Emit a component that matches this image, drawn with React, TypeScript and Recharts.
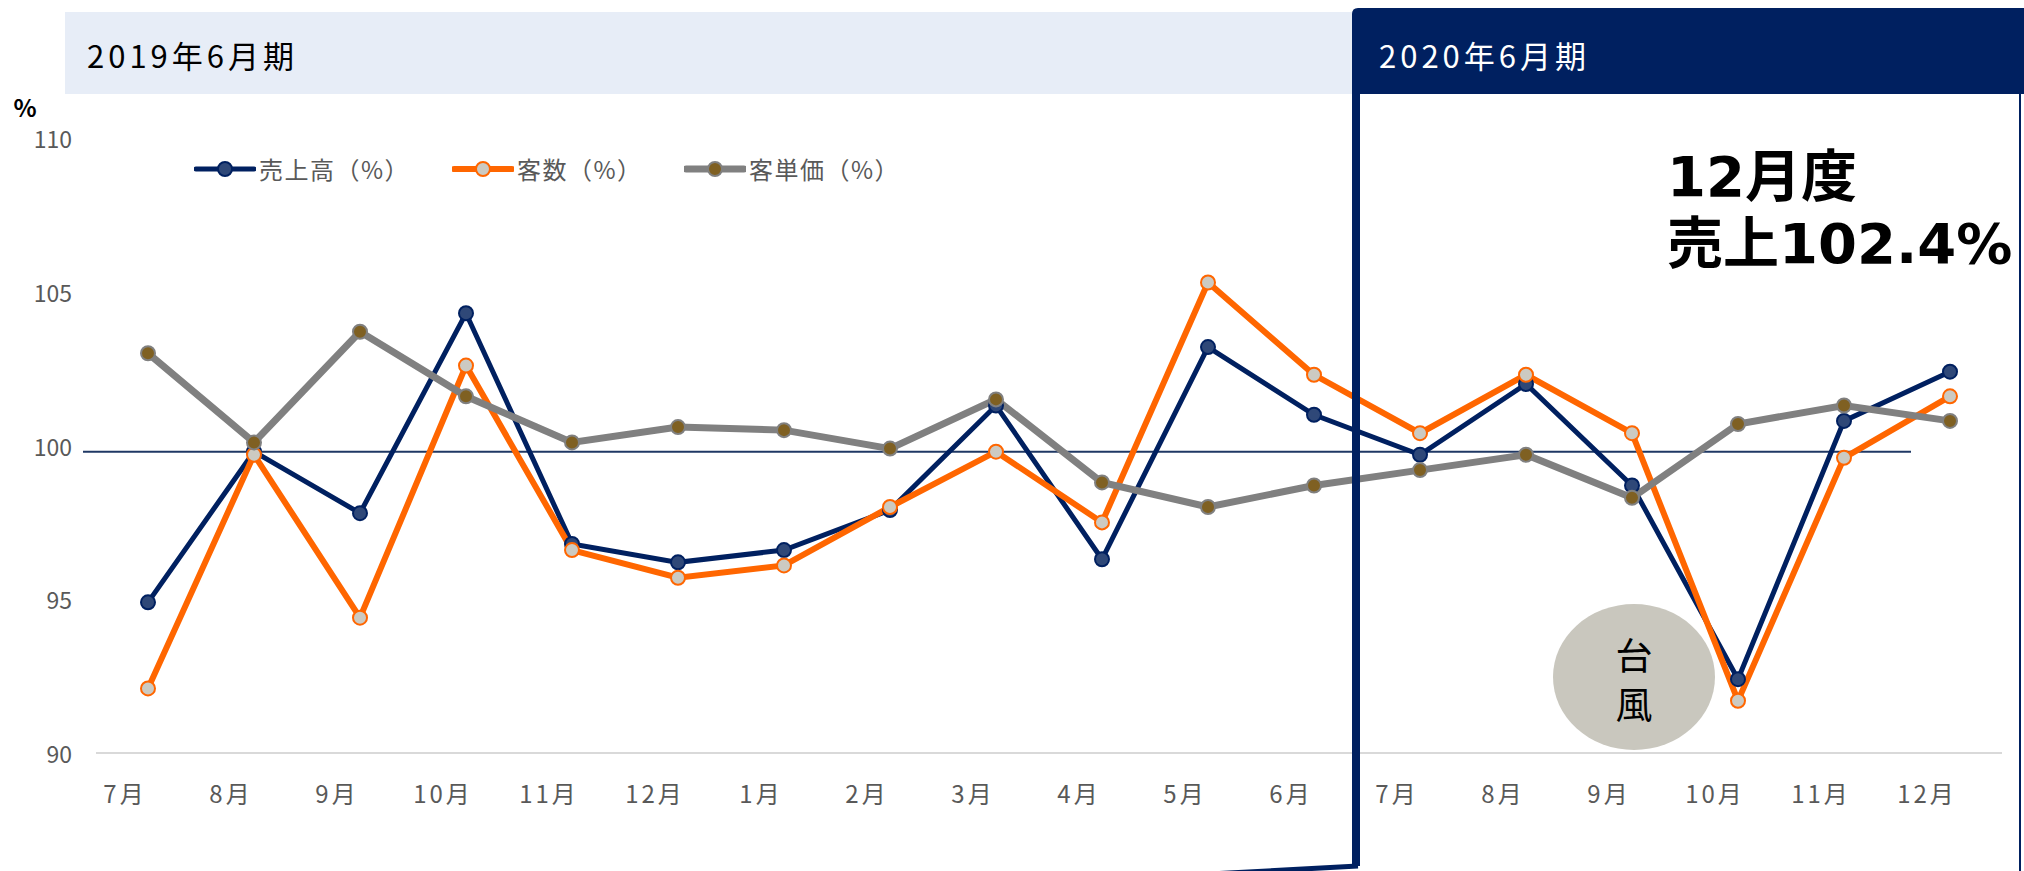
import React from 'react';
import { LineChart, Line, XAxis, YAxis, ReferenceLine, Legend } from 'recharts';

const months = ['7月', '8月', '9月', '10月', '11月', '12月', '1月', '2月', '3月', '4月', '5月', '6月', '7月', '8月', '9月', '10月', '11月', '12月'];

const sales = [94.9, 99.8, 97.8, 104.3, 96.8, 96.2, 96.6, 97.9, 101.3, 96.3, 103.2, 101.0, 99.7, 102.0, 98.7, 92.4, 100.8, 102.4];
const customers = [92.1, 99.7, 94.4, 102.6, 96.6, 95.7, 96.1, 98.0, 99.8, 97.5, 105.3, 102.3, 100.4, 102.3, 100.4, 91.7, 99.6, 101.6];
const unitPrice = [103.0, 100.1, 103.7, 101.6, 100.1, 100.6, 100.5, 99.9, 101.5, 98.8, 98.0, 98.7, 99.2, 99.7, 98.3, 100.7, 101.3, 100.8];

const yTicks = [90, 95, 100, 105, 110];

const NAVY = '#002060';
const ORANGE = '#FF6600';
const GRAY = '#808080';
const FONT = '"Noto Sans CJK JP", "Noto Sans", sans-serif';

const chartData = months.map((m, i) => ({
  month: m,
  sales: sales[i],
  customers: customers[i],
  unitPrice: unitPrice[i],
}));

const SERIES = [
  { key: 'sales', name: '売上高（%）', stroke: NAVY, width: 5, dotFill: '#2F4878', dotStroke: NAVY },
  { key: 'customers', name: '客数（%）', stroke: ORANGE, width: 6, dotFill: '#CCCAC2', dotStroke: ORANGE },
  { key: 'unitPrice', name: '客単価（%）', stroke: GRAY, width: 7, dotFill: '#7F6022', dotStroke: GRAY },
];

const MonthTick = ({ x, y, payload }: any) => (
  <text x={x - 23} y={y + 31} textAnchor="middle" dominantBaseline="central" fill="#595959" fontSize={24} letterSpacing={3} fontFamily={FONT}>
    {payload.value}
  </text>
);

const ValueTick = ({ x, y, payload }: any) => (
  <text x={x - 16} y={y} textAnchor="end" dominantBaseline="central" fill="#595959" fontSize={23} fontFamily={FONT}>
    {payload.value}
  </text>
);

const LegendContent = () => (
  <div style={{ display: 'flex', fontFamily: FONT, fontSize: 24, letterSpacing: 1.5, color: '#595959' }}>
    {SERIES.map((s, i) => (
      <div key={s.key} style={{ display: 'flex', alignItems: 'center', width: i === 0 ? 258 : 232 }}>
        <svg width={62} height={20} style={{ marginRight: 3 }}>
          <line x1={2} y1={10} x2={60} y2={10} stroke={s.stroke} strokeWidth={s.width} strokeLinecap="round" />
          <circle cx={31} cy={10} r={7} fill={s.dotFill} stroke={s.dotStroke} strokeWidth={2} />
        </svg>
        <span>{s.name}</span>
      </div>
    ))}
  </div>
);

export default function App() {
  return (
    <div style={{ position: 'absolute', left: 0, top: 0, width: 2024, height: 871, background: '#fff', overflow: 'hidden' }}>
      {/* header band behind the chart */}
      <svg width={2024} height={871} style={{ position: 'absolute', left: 0, top: 0 }}>
        <rect x={65} y={12} width={1290} height={82} fill="#E7EDF7" />
        <text x={87} y={54} dominantBaseline="central" fontSize={31} letterSpacing={4} fontFamily={FONT} fill="#000">2019年6月期</text>
        <text x={25} y={106} textAnchor="middle" dominantBaseline="central" fontSize={24} fontWeight="bold" fontFamily={FONT} fill="#000">%</text>
      </svg>

      <div style={{ position: 'absolute', left: 0, top: 0 }}>
        <LineChart width={2024} height={871} data={chartData} margin={{ top: 138, right: 22, bottom: 78, left: 36 }}>
          <XAxis
            dataKey="month"
            height={40}
            padding={{ left: 52, right: 52 }}
            axisLine={{ stroke: '#D9D9D9', strokeWidth: 2 }}
            tickLine={false}
            tick={<MonthTick />}
            interval={0}
          />
          <YAxis
            width={60}
            domain={[90, 110]}
            ticks={yTicks}
            axisLine={false}
            tickLine={false}
            tick={<ValueTick />}
          />
          <ReferenceLine
            y={99.8}
            ifOverflow="visible"
            shape={(p: any) => <line x1={p.x1 - 13} y1={p.y1} x2={p.x2 - 91} y2={p.y2} stroke="#1F3864" strokeWidth={2} />}
          />
          <Legend
            layout="vertical"
            align="center"
            verticalAlign="middle"
            wrapperStyle={{ position: 'absolute', left: 194, top: 151, width: 760 }}
            content={<LegendContent />}
          />
          {SERIES.map((s) => (
            <Line
              key={s.key}
              type="linear"
              dataKey={s.key}
              name={s.name}
              stroke={s.stroke}
              strokeWidth={s.width}
              dot={{ r: 7, fill: s.dotFill, stroke: s.dotStroke, strokeWidth: 2 }}
              activeDot={false}
              isAnimationActive={false}
            />
          ))}
        </LineChart>
      </div>

      {/* 2020 period box and annotations */}
      <svg width={2024} height={871} style={{ position: 'absolute', left: 0, top: 0, pointerEvents: 'none' }}>
        <path d="M1352 94 L1352 14 Q1352 8 1358 8 L2024 8 L2024 94 Z" fill={NAVY} />
        <text x={1379} y={54} dominantBaseline="central" fontSize={31} letterSpacing={4} fontFamily={FONT} fill="#fff">2020年6月期</text>
        <rect x={1352} y={90} width={8} height={776} fill={NAVY} />
        <line x1={2020} y1={90} x2={2020} y2={871} stroke={NAVY} strokeWidth={2} />
        <line x1={1358} y1={866} x2={1210} y2={874} stroke={NAVY} strokeWidth={5} />
        <text x={1667} y={196} fontSize={56} fontWeight="bold" fontFamily={`"DejaVu Sans", ${FONT}`} fill="#000">12月度</text>
        <text x={1667} y={263} fontSize={56} fontWeight="bold" fontFamily={`"DejaVu Sans", ${FONT}`} fill="#000">売上102.4%</text>
        <ellipse cx={1634} cy={677} rx={81} ry={73} fill="#C9C7BE" />
        <text textAnchor="middle" fontSize={37} fontFamily={FONT} fill="#000">
          <tspan x={1634} y={654} dominantBaseline="central">台</tspan>
          <tspan x={1634} y={703} dominantBaseline="central">風</tspan>
        </text>
      </svg>
    </div>
  );
}
